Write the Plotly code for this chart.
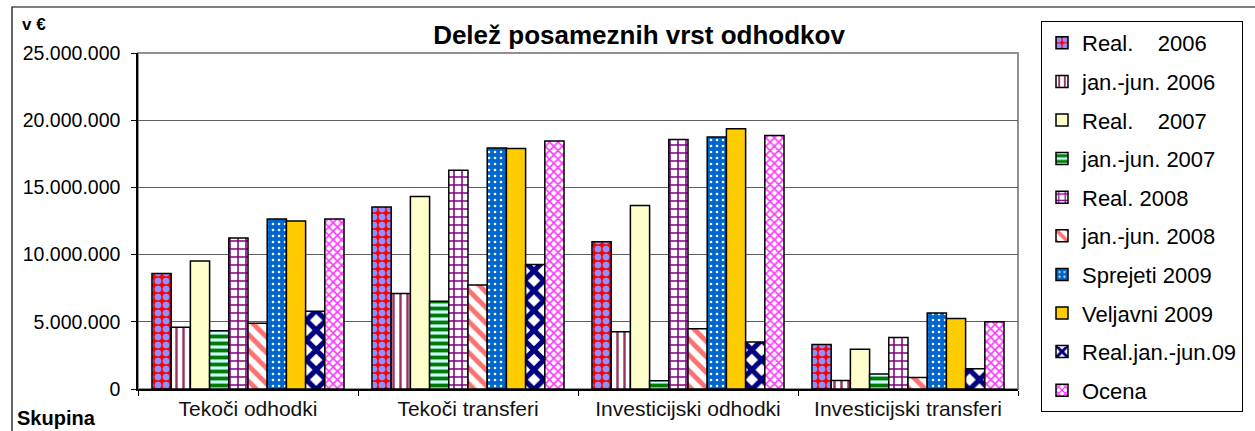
import plotly.graph_objects as go

categories = ["Tekoči odhodki", "Tekoči transferi", "Investicijski odhodki", "Investicijski transferi"]

series_names = ["Real.\u00a0\u00a0\u00a0 2006", "jan.-jun. 2006", "Real.\u00a0\u00a0\u00a0 2007", "jan.-jun. 2007", "Real. 2008",
                "jan.-jun. 2008", "Sprejeti 2009", "Veljavni 2009", "Real.jan.-jun.09", "Ocena"]

real_2006 = [8600000, 13550000, 10950000, 3320000]
janjun_2006 = [4600000, 7100000, 4260000, 640000]
real_2007 = [9520000, 14330000, 13660000, 2950000]
janjun_2007 = [4340000, 6520000, 620000, 1120000]
real_2008 = [11230000, 16270000, 18570000, 3840000]
janjun_2008 = [4890000, 7740000, 4490000, 860000]
sprejeti_2009 = [12650000, 17930000, 18750000, 5650000]
veljavni_2009 = [12500000, 17900000, 19370000, 5250000]
real_janjun_09 = [5780000, 9270000, 3500000, 1510000]
ocena = [12650000, 18450000, 18870000, 5000000]

values = [real_2006, janjun_2006, real_2007, janjun_2007, real_2008,
          janjun_2008, sprejeti_2009, veljavni_2009, real_janjun_09, ocena]

y_ticks = [0, 5000000, 10000000, 15000000, 20000000, 25000000]

def pat(shape, fg, bg, size, solidity):
    return dict(shape=shape, fgcolor=fg, bgcolor=bg, size=size, solidity=solidity,
                fillmode="replace", fgopacity=1)

styles = [
    dict(color="#FF0000", pattern=pat(".", "#9090FF", "#FF0000", 8, 0.55)),
    dict(color="#FFFFFF", pattern=pat("|", "#993366", "#FFFFFF", 7, 0.35)),
    dict(color="#FFFFCC", pattern=dict(shape="")),
    dict(color="#008000", pattern=pat("-", "#007A00", "#CCFFFF", 7, 0.55)),
    dict(color="#800080", pattern=pat("+", "#800080", "#FFFFFF", 8, 0.35)),
    dict(color="#FF8080", pattern=pat("\\", "#FF7070", "#FFFFFF", 11, 0.45)),
    dict(color="#0066CC", pattern=pat(".", "#FFFFFF", "#0066CC", 6, 0.15)),
    dict(color="#FFCC00", pattern=dict(shape="")),
    dict(color="#000080", pattern=pat("x", "#000080", "#FFFFFF", 14, 0.6)),
    dict(color="#FF66FF", pattern=pat("x", "#FF33FF", "#FFFFFF", 6, 0.45)),
]

FONT = "Liberation Sans, Arial, sans-serif"

fig = go.Figure()
for i, (name, vals, st) in enumerate(zip(series_names, values, styles)):
    fig.add_trace(go.Bar(
        x=categories, y=vals, name=name, legendgroup=f"g{i}",
        marker=dict(color=st["color"], pattern=st["pattern"],
                    line=dict(color="black", width=1.5)),
    ))

W, H = 1255, 431
L, R, T, B = 138, 1018, 53, 389

def px_x(p):
    return (p - L) / (R - L)

def px_y(p):
    return (B - p) / (B - T)

fig.update_layout(
    width=W, height=H,
    margin=dict(l=L, r=W - R, t=T, b=H - B),
    paper_bgcolor="white", plot_bgcolor="white",
    barmode="group", bargap=0.127, bargroupgap=0,
    separators=",.",
    font=dict(family=FONT, size=19, color="black"),
    title=dict(text="<b>Delež posameznih vrst odhodkov</b>", font=dict(size=26, family=FONT),
               xref="container", x=639 / W, xanchor="center",
               yref="container", y=1 - 35 / H, yanchor="middle"),
    legend=dict(xref="container", yref="container", x=1041 / W, y=1 - 21 / H,
                xanchor="left", yanchor="top", bordercolor="black", borderwidth=1,
                font=dict(size=22, family=FONT), tracegroupgap=7, bgcolor="white",
                maxheight=1),
    xaxis=dict(showline=True, linecolor="black", linewidth=1.5, ticks="outside",
               tickson="boundaries", ticklen=5, tickcolor="black",
               tickfont=dict(size=21, color="#111111"), showgrid=False),
    yaxis=dict(range=[0, 25000000], tickvals=y_ticks, tickformat=",.0f",
               showline=True, linecolor="black", linewidth=1.5, ticks="outside",
               ticklen=5, tickcolor="black", gridcolor="#5e5e5e", gridwidth=1,
               tickfont=dict(size=19.5), ticklabelstandoff=7, zeroline=False),
    shapes=[
        dict(type="rect", xref="paper", yref="paper", x0=0, x1=1, y0=0, y1=1,
             line=dict(color="#909090", width=2), layer="below"),
        dict(type="rect", xref="paper", yref="paper", x0=px_x(12), x1=2.0, y0=-1.0, y1=px_y(7),
             line=dict(color="black", width=1.2), layer="below"),
    ],
    annotations=[
        dict(text="<b>v €</b>", xref="paper", yref="paper", x=px_x(20), y=px_y(24),
             xanchor="left", yanchor="middle", showarrow=False, font=dict(size=17, family=FONT)),
        dict(text="<b>Skupina</b>", xref="paper", yref="paper", x=px_x(15), y=px_y(418),
             xanchor="left", yanchor="middle", showarrow=False, font=dict(size=20, family=FONT)),
    ],
)

fig.write_html("out.html", config={"displayModeBar": False},
               post_script="document.body.style.margin='0px';document.body.style.overflow='hidden';")
